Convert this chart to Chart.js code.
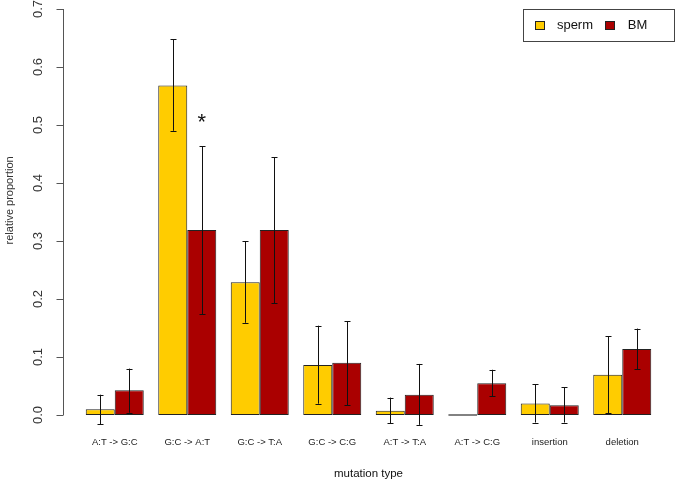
<!DOCTYPE html>
<html>
<head>
<meta charset="utf-8">
<script src="https://cdn.jsdelivr.net/npm/chart.js@4/dist/chart.umd.min.js"></script>
<style>
  html, body { margin: 0; padding: 0; background: #fff; }
  canvas { display: block; }
</style>
</head>
<body>
<canvas id="mutChart" width="675" height="482"></canvas>
<script>
// data
const categories = ['A:T -> G:C', 'G:C -> A:T', 'G:C -> T:A', 'G:C -> C:G', 'A:T -> T:A', 'A:T -> C:G', 'insertion', 'deletion'];
const seriesNames = ['sperm', 'BM'];

const spermValues = [0.010, 0.568, 0.229, 0.086, 0.0075, 0, 0.020, 0.0695];
const spermLow    = [-0.016, 0.490, 0.159, 0.0195, -0.014, null, -0.013, 0.003];
const spermHigh   = [0.035, 0.648, 0.300, 0.154, 0.030, null, 0.053, 0.136];

const bmValues = [0.0426, 0.319, 0.319, 0.090, 0.035, 0.0546, 0.0167, 0.114];
const bmLow    = [0.004, 0.174, 0.193, 0.017, -0.017, 0.032, -0.013, 0.079];
const bmHigh   = [0.080, 0.463, 0.444, 0.162, 0.088, 0.078, 0.048, 0.149];

const yTickValues = [0, 0.1, 0.2, 0.3, 0.4, 0.5, 0.6, 0.7];
const yTickLabels = ['0.0', '0.1', '0.2', '0.3', '0.4', '0.5', '0.6', '0.7'];

// significance marks: [category index, dataset index, value]
const starMarks = [[1, 1, 0.513]];

const FONT = '"Liberation Sans", Arial, Helvetica, sans-serif';

// error bars drawn on top of the bars
const errorBars = {
  id: 'errorBars',
  afterDatasetsDraw(chart) {
    const ctx = chart.ctx;
    const y = chart.scales.y;
    ctx.save();
    ctx.strokeStyle = '#111';
    ctx.lineWidth = 1;
    chart.data.datasets.forEach((ds, di) => {
      const meta = chart.getDatasetMeta(di);
      meta.data.forEach((bar, i) => {
        if (ds.errLow[i] == null) return;
        const x = Math.round(bar.x) + 0.5;
        const y1 = y.getPixelForValue(ds.errLow[i]);
        const y2 = y.getPixelForValue(ds.errHigh[i]);
        ctx.beginPath();
        ctx.moveTo(x, y1); ctx.lineTo(x, y2);
        ctx.moveTo(x - 3, Math.round(y1) + 0.5); ctx.lineTo(x + 3, Math.round(y1) + 0.5);
        ctx.moveTo(x - 3, Math.round(y2) + 0.5); ctx.lineTo(x + 3, Math.round(y2) + 0.5);
        ctx.stroke();
      });
    });
    // asterisks
    ctx.fillStyle = '#111';
    ctx.font = '22px ' + FONT;
    ctx.textAlign = 'center';
    ctx.textBaseline = 'alphabetic';
    starMarks.forEach(m => {
      const bar = chart.getDatasetMeta(m[1]).data[m[0]];
      ctx.fillText('*', bar.x, y.getPixelForValue(m[2]) + 12);
    });
    ctx.restore();
  }
};

// R style y axis: line only between first and last tick, labels turned 90 degrees
const rAxis = {
  id: 'rAxis',
  afterDraw(chart) {
    const ctx = chart.ctx;
    const y = chart.scales.y;
    const ax = Math.round(chart.chartArea.left - 15.5) + 0.5;
    ctx.save();
    ctx.strokeStyle = '#555';
    ctx.lineWidth = 1;
    ctx.beginPath();
    ctx.moveTo(ax, y.getPixelForValue(yTickValues[0]));
    ctx.lineTo(ax, y.getPixelForValue(yTickValues[yTickValues.length - 1]));
    yTickValues.forEach(v => {
      const py = Math.round(y.getPixelForValue(v)) + 0.5;
      ctx.moveTo(ax, py); ctx.lineTo(ax - 7, py);
    });
    ctx.stroke();

    ctx.fillStyle = '#333';
    ctx.font = '13px ' + FONT;
    ctx.textAlign = 'center';
    ctx.textBaseline = 'middle';
    yTickValues.forEach((v, i) => {
      ctx.save();
      ctx.translate(ax - 25, y.getPixelForValue(v));
      ctx.rotate(-Math.PI / 2);
      ctx.fillText(yTickLabels[i], 0, 0);
      ctx.restore();
    });

    ctx.font = '11px ' + FONT;
    ctx.save();
    ctx.translate(ax - 54, y.getPixelForValue(0.37));
    ctx.rotate(-Math.PI / 2);
    ctx.fillText('relative proportion', 0, 0);
    ctx.restore();

    // legend box, top right like legend("topright")
    const sets = chart.data.datasets;
    const right = chart.chartArea.right + 15;
    const top = chart.chartArea.top;
    const boxW = 151, boxH = 32;
    const left = right - boxW;
    ctx.strokeStyle = '#444';
    ctx.strokeRect(Math.round(left) + 0.5, Math.round(top) + 0.5, boxW, boxH);
    ctx.font = '13px ' + FONT;
    ctx.textAlign = 'left';
    let lx = left + 12;
    const ly = top + boxH / 2;
    sets.forEach(ds => {
      ctx.fillStyle = ds.backgroundColor;
      ctx.fillRect(Math.round(lx) + 0.5, Math.round(ly - 4) + 0.5, 9, 8);
      ctx.strokeStyle = '#222';
      ctx.strokeRect(Math.round(lx) + 0.5, Math.round(ly - 4) + 0.5, 9, 8);
      lx += 22.4;
      ctx.fillStyle = '#111';
      ctx.fillText(ds.label, lx, ly);
      lx += ctx.measureText(ds.label).width + 12.3;
    });
    ctx.restore();
  }
};

new Chart(document.getElementById('mutChart'), {
  type: 'bar',
  data: {
    labels: categories,
    datasets: [
      {
        label: seriesNames[0],
        data: spermValues,
        errLow: spermLow,
        errHigh: spermHigh,
        backgroundColor: '#FFCC00',
        borderColor: '#222',
        borderWidth: 1,
        borderSkipped: false,
        minBarLength: 1.5
      },
      {
        label: seriesNames[1],
        data: bmValues,
        errLow: bmLow,
        errHigh: bmHigh,
        backgroundColor: '#AA0000',
        borderColor: '#222',
        borderWidth: 1,
        borderSkipped: false
      }
    ]
  },
  options: {
    responsive: false,
    animation: false,
    devicePixelRatio: 1,
    layout: { padding: { left: 78.5, right: 16.5, top: 9, bottom: 0 } },
    datasets: { bar: { categoryPercentage: 0.8, barPercentage: 1.0 } },
    plugins: {
      legend: { display: false },
      tooltip: { enabled: false }
    },
    scales: {
      x: {
        grid: { display: false, drawTicks: false },
        border: { display: false },
        ticks: {
          color: '#222',
          padding: 4.6,
          maxRotation: 0,
          autoSkip: false,
          font: { family: FONT, size: 9.5 }
        },
        title: {
          display: true,
          text: 'mutation type',
          color: '#111',
          font: { family: FONT, size: 11.5 },
          padding: { top: 14.2, bottom: 1 }
        }
      },
      y: {
        display: false,
        min: -0.03,
        max: 0.7
      }
    }
  },
  plugins: [errorBars, rAxis]
});
</script>
</body>
</html>
